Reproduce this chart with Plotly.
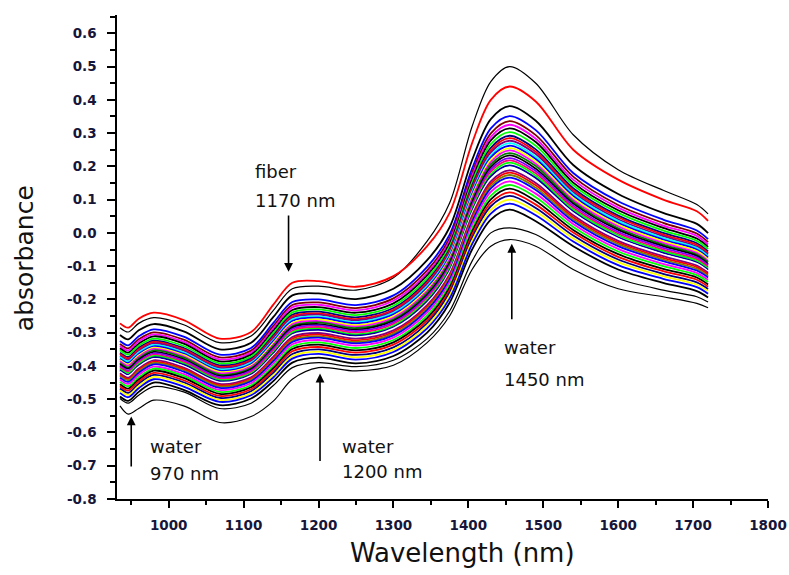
import plotly.graph_objects as go

wavelength_nm = [935, 946, 960, 980, 1020, 1068, 1110, 1140, 1165, 1200, 1250, 1300,
                 1345, 1375, 1405, 1430, 1455, 1490, 1540, 1600, 1660, 1705, 1720]

# Absorbance of all 36 samples at each wavelength (one list per wavelength)
a935 = [-0.285, -0.272, -0.307, -0.325, -0.334, -0.340, -0.347, -0.353, -0.360, -0.364, -0.369, -0.373, -0.378, -0.382, -0.386, -0.391, -0.395, -0.400, -0.404, -0.408, -0.413, -0.417, -0.422, -0.426, -0.430, -0.435, -0.441, -0.448, -0.455, -0.461, -0.468, -0.474, -0.481, -0.492, -0.498, -0.520]
a946 = [-0.298, -0.285, -0.320, -0.338, -0.347, -0.353, -0.360, -0.366, -0.373, -0.377, -0.382, -0.386, -0.391, -0.395, -0.399, -0.404, -0.408, -0.413, -0.417, -0.421, -0.426, -0.430, -0.435, -0.439, -0.443, -0.448, -0.454, -0.461, -0.468, -0.474, -0.481, -0.487, -0.494, -0.505, -0.512, -0.545]
a960 = [-0.272, -0.258, -0.293, -0.311, -0.320, -0.326, -0.333, -0.339, -0.346, -0.350, -0.355, -0.359, -0.364, -0.368, -0.372, -0.377, -0.381, -0.386, -0.390, -0.394, -0.399, -0.403, -0.408, -0.412, -0.416, -0.421, -0.427, -0.434, -0.441, -0.447, -0.454, -0.460, -0.467, -0.478, -0.488, -0.528]
a980 = [-0.255, -0.240, -0.274, -0.290, -0.299, -0.305, -0.311, -0.318, -0.324, -0.328, -0.332, -0.337, -0.341, -0.345, -0.349, -0.353, -0.358, -0.362, -0.366, -0.370, -0.374, -0.379, -0.383, -0.387, -0.391, -0.395, -0.402, -0.408, -0.414, -0.421, -0.427, -0.433, -0.440, -0.450, -0.462, -0.503]
a1020 = [-0.276, -0.262, -0.296, -0.312, -0.321, -0.327, -0.333, -0.340, -0.346, -0.350, -0.354, -0.359, -0.363, -0.367, -0.371, -0.375, -0.380, -0.384, -0.388, -0.392, -0.396, -0.401, -0.405, -0.409, -0.413, -0.417, -0.424, -0.430, -0.436, -0.443, -0.449, -0.455, -0.462, -0.472, -0.478, -0.520]
a1068 = [-0.330, -0.318, -0.350, -0.366, -0.374, -0.380, -0.386, -0.392, -0.398, -0.402, -0.406, -0.410, -0.414, -0.418, -0.422, -0.426, -0.430, -0.434, -0.438, -0.442, -0.446, -0.450, -0.454, -0.458, -0.462, -0.466, -0.472, -0.478, -0.484, -0.490, -0.496, -0.502, -0.508, -0.518, -0.528, -0.570]
a1110 = [-0.310, -0.298, -0.330, -0.346, -0.354, -0.360, -0.366, -0.372, -0.378, -0.382, -0.386, -0.390, -0.394, -0.398, -0.402, -0.406, -0.410, -0.414, -0.418, -0.422, -0.426, -0.430, -0.434, -0.438, -0.442, -0.446, -0.452, -0.458, -0.464, -0.470, -0.476, -0.482, -0.488, -0.498, -0.512, -0.552]
a1140 = [-0.232, -0.215, -0.252, -0.270, -0.279, -0.286, -0.293, -0.300, -0.307, -0.312, -0.316, -0.321, -0.325, -0.330, -0.335, -0.339, -0.344, -0.348, -0.353, -0.358, -0.362, -0.367, -0.371, -0.376, -0.381, -0.385, -0.392, -0.399, -0.406, -0.413, -0.420, -0.427, -0.434, -0.445, -0.458, -0.505]
a1165 = [-0.168, -0.150, -0.188, -0.208, -0.217, -0.224, -0.232, -0.239, -0.246, -0.251, -0.256, -0.260, -0.265, -0.270, -0.275, -0.280, -0.284, -0.289, -0.294, -0.299, -0.304, -0.308, -0.313, -0.318, -0.323, -0.328, -0.335, -0.342, -0.349, -0.356, -0.364, -0.371, -0.378, -0.390, -0.405, -0.440]
a1200 = [-0.160, -0.145, -0.182, -0.200, -0.209, -0.216, -0.223, -0.230, -0.237, -0.242, -0.246, -0.251, -0.255, -0.260, -0.265, -0.269, -0.274, -0.278, -0.283, -0.288, -0.292, -0.297, -0.301, -0.306, -0.311, -0.315, -0.322, -0.329, -0.336, -0.343, -0.350, -0.357, -0.364, -0.375, -0.390, -0.405]
a1250 = [-0.172, -0.162, -0.199, -0.217, -0.226, -0.233, -0.240, -0.247, -0.254, -0.259, -0.263, -0.268, -0.272, -0.277, -0.282, -0.286, -0.291, -0.295, -0.300, -0.305, -0.309, -0.314, -0.318, -0.323, -0.328, -0.332, -0.339, -0.346, -0.353, -0.360, -0.367, -0.374, -0.381, -0.392, -0.402, -0.415]
a1300 = [-0.135, -0.130, -0.168, -0.188, -0.197, -0.204, -0.212, -0.219, -0.226, -0.231, -0.236, -0.240, -0.245, -0.250, -0.255, -0.260, -0.264, -0.269, -0.274, -0.279, -0.284, -0.288, -0.293, -0.298, -0.303, -0.308, -0.315, -0.322, -0.329, -0.336, -0.344, -0.351, -0.358, -0.370, -0.383, -0.398]
a1345 = [-0.025, -0.040, -0.082, -0.102, -0.113, -0.121, -0.128, -0.136, -0.144, -0.149, -0.154, -0.160, -0.165, -0.170, -0.175, -0.180, -0.186, -0.191, -0.196, -0.201, -0.206, -0.212, -0.217, -0.222, -0.227, -0.232, -0.240, -0.248, -0.256, -0.264, -0.271, -0.279, -0.287, -0.300, -0.318, -0.330]
a1375 = [0.090, 0.060, 0.017, -0.005, -0.016, -0.024, -0.032, -0.040, -0.048, -0.053, -0.059, -0.064, -0.070, -0.075, -0.080, -0.086, -0.091, -0.097, -0.102, -0.107, -0.113, -0.118, -0.124, -0.129, -0.134, -0.140, -0.148, -0.156, -0.164, -0.172, -0.180, -0.188, -0.197, -0.210, -0.235, -0.250]
a1405 = [0.320, 0.270, 0.219, 0.193, 0.180, 0.171, 0.161, 0.152, 0.142, 0.136, 0.129, 0.123, 0.116, 0.110, 0.104, 0.097, 0.091, 0.084, 0.078, 0.072, 0.065, 0.059, 0.052, 0.046, 0.040, 0.033, 0.024, 0.014, 0.004, -0.005, -0.015, -0.024, -0.034, -0.050, -0.085, -0.110]
a1430 = [0.455, 0.400, 0.342, 0.314, 0.299, 0.288, 0.278, 0.267, 0.256, 0.249, 0.242, 0.234, 0.227, 0.220, 0.213, 0.206, 0.198, 0.191, 0.184, 0.177, 0.170, 0.162, 0.155, 0.148, 0.141, 0.134, 0.123, 0.112, 0.101, 0.090, 0.080, 0.069, 0.058, 0.040, 0.000, -0.040]
a1455 = [0.500, 0.440, 0.381, 0.351, 0.336, 0.325, 0.314, 0.303, 0.292, 0.285, 0.277, 0.270, 0.262, 0.255, 0.248, 0.240, 0.233, 0.225, 0.218, 0.211, 0.203, 0.196, 0.188, 0.181, 0.174, 0.166, 0.155, 0.144, 0.133, 0.122, 0.111, 0.100, 0.088, 0.070, 0.015, -0.020]
a1490 = [0.450, 0.395, 0.337, 0.309, 0.294, 0.283, 0.273, 0.262, 0.251, 0.244, 0.237, 0.229, 0.222, 0.215, 0.208, 0.201, 0.193, 0.186, 0.179, 0.172, 0.165, 0.157, 0.150, 0.143, 0.136, 0.129, 0.118, 0.107, 0.096, 0.085, 0.075, 0.064, 0.053, 0.035, -0.005, -0.040]
a1540 = [0.295, 0.250, 0.204, 0.180, 0.169, 0.160, 0.151, 0.143, 0.134, 0.128, 0.122, 0.117, 0.111, 0.105, 0.099, 0.093, 0.088, 0.082, 0.076, 0.070, 0.064, 0.059, 0.053, 0.047, 0.041, 0.035, 0.027, 0.018, 0.009, 0.001, -0.008, -0.017, -0.026, -0.040, -0.075, -0.110]
a1600 = [0.190, 0.160, 0.117, 0.095, 0.084, 0.076, 0.068, 0.060, 0.052, 0.047, 0.041, 0.036, 0.030, 0.025, 0.020, 0.014, 0.009, 0.003, -0.002, -0.007, -0.013, -0.018, -0.024, -0.029, -0.034, -0.040, -0.048, -0.056, -0.064, -0.072, -0.080, -0.088, -0.097, -0.110, -0.138, -0.168]
a1660 = [0.128, 0.100, 0.060, 0.040, 0.030, 0.022, 0.015, 0.007, 0.000, -0.005, -0.010, -0.015, -0.020, -0.025, -0.030, -0.035, -0.040, -0.045, -0.050, -0.055, -0.060, -0.065, -0.070, -0.075, -0.080, -0.085, -0.093, -0.100, -0.108, -0.115, -0.123, -0.130, -0.138, -0.150, -0.172, -0.192]
a1705 = [0.085, 0.065, 0.027, 0.007, -0.002, -0.009, -0.017, -0.024, -0.031, -0.036, -0.041, -0.045, -0.050, -0.055, -0.060, -0.065, -0.069, -0.074, -0.079, -0.084, -0.089, -0.093, -0.098, -0.103, -0.108, -0.113, -0.120, -0.127, -0.134, -0.141, -0.149, -0.156, -0.163, -0.175, -0.192, -0.212]
a1720 = [0.057, 0.036, -0.001, -0.019, -0.028, -0.035, -0.042, -0.049, -0.056, -0.061, -0.065, -0.070, -0.074, -0.079, -0.084, -0.088, -0.093, -0.097, -0.102, -0.107, -0.111, -0.116, -0.120, -0.125, -0.130, -0.134, -0.141, -0.148, -0.155, -0.162, -0.169, -0.176, -0.183, -0.194, -0.208, -0.225]

absorbance_rows = [a935, a946, a960, a980, a1020, a1068, a1110, a1140, a1165, a1200,
                   a1250, a1300, a1345, a1375, a1405, a1430, a1455, a1490, a1540,
                   a1600, a1660, a1705, a1720]

# Axis ticks
x_tick_values = [1000, 1100, 1200, 1300, 1400, 1500, 1600, 1700, 1800]
x_tick_labels = ["1000", "1100", "1200", "1300", "1400", "1500", "1600", "1700", "1800"]
y_tick_values = [-0.8, -0.7, -0.6, -0.5, -0.4, -0.3, -0.2, -0.1, 0.0, 0.1, 0.2, 0.3, 0.4, 0.5, 0.6]
y_tick_labels = ["-0.8", "-0.7", "-0.6", "-0.5", "-0.4", "-0.3", "-0.2", "-0.1",
                 "0.0", "0.1", "0.2", "0.3", "0.4", "0.5", "0.6"]

# Band labels and arrows
label_texts = ["fiber", "1170 nm", "water", "970 nm", "water", "1200 nm", "water", "1450 nm"]
label_x = [1112, 1112, 972, 972, 1229, 1229, 1445, 1445]
label_y = [0.186, 0.096, -0.641, -0.722, -0.641, -0.716, -0.345, -0.441]
arrow_x = [1160, 950, 1202, 1458]
arrow_head_y = [-0.117, -0.552, -0.423, -0.033]
arrow_tail_y = [0.057, -0.707, -0.690, -0.264]

# Styles (Origin-like colour cycle)
line_colors = [
    "#000000", "#FF0000", "#000000", "#0000FF", "#800000", "#FF00FF", "#000000", "#00FF00",
    "#000080", "#FF0000", "#800080", "#00FFFF", "#0000FF", "#FFFF00", "#FF00FF", "#008000",
    "#000000", "#8000FF", "#FF0080", "#00FF00", "#0000A0", "#FFFFFF", "#800080", "#FF0000",
    "#808000", "#0000FF", "#FF00FF", "#00FF00", "#000000", "#FF0000", "#000080", "#FFFF00",
    "#0000FF", "#000000", "#000000", "#000000"]

n_samples = len(a935)
for row in absorbance_rows:
    assert len(row) == n_samples, len(row)

fig = go.Figure()
for j in range(n_samples):
    y = [row[j] for row in absorbance_rows]
    thin = j in (0, n_samples - 2, n_samples - 1)
    fig.add_trace(go.Scatter(
        x=wavelength_nm, y=y, mode="lines",
        line=dict(color=line_colors[j], width=1.2 if thin else 1.8, shape="spline", smoothing=0.9),
        showlegend=False, hoverinfo="skip"))

annotations = []
for t, xx, yy in zip(label_texts, label_x, label_y):
    annotations.append(dict(x=xx, y=yy, xref="x", yref="y", text=t, showarrow=False,
                            xanchor="left", yanchor="middle",
                            font=dict(family="DejaVu Sans", size=18, color="#111111")))
for xx, hy, ty in zip(arrow_x, arrow_head_y, arrow_tail_y):
    annotations.append(dict(x=xx, y=hy, ax=xx, ay=ty, xref="x", yref="y", axref="x", ayref="y",
                            text="", showarrow=True, arrowhead=2, arrowsize=1.1, arrowwidth=1.6,
                            arrowcolor="#000000", standoff=0, startstandoff=0))
annotations.append(dict(x=0.53, y=-0.112, xref="paper", yref="paper", text="Wavelength (nm)",
                        showarrow=False, xanchor="center", yanchor="middle",
                        font=dict(family="DejaVu Sans", size=26, color="#111111")))
annotations.append(dict(x=-0.141, y=0.498, xref="paper", yref="paper", text="absorbance",
                        showarrow=False, xanchor="center", yanchor="middle", textangle=-90,
                        font=dict(family="DejaVu Sans", size=25, color="#111111")))

tick_font = dict(family="DejaVu Sans", size=13.5, color="#16163a", weight="bold")

fig.update_layout(
    width=789, height=575,
    margin=dict(l=117, r=21, t=15, b=76, autoexpand=False),
    paper_bgcolor="white", plot_bgcolor="white",
    showlegend=False,
    annotations=annotations,
    xaxis=dict(range=[931, 1800], tickmode="array", tickvals=x_tick_values, ticktext=x_tick_labels,
               automargin=False,
               showgrid=False, zeroline=False, showline=True, linecolor="#000000", linewidth=1.5,
               ticks="outside", ticklen=7, tickwidth=1.5, tickcolor="#000000",
               tickfont=tick_font, ticklabelstandoff=6,
               minor=dict(tickmode="linear", tick0=950, dtick=100, ticks="outside", ticklen=4,
                          tickwidth=1.5, tickcolor="#000000", showgrid=False)),
    yaxis=dict(range=[-0.8, 0.655], tickmode="array", tickvals=y_tick_values, ticktext=y_tick_labels,
               automargin=False,
               showgrid=False, zeroline=False, showline=True, linecolor="#000000", linewidth=1.5,
               ticks="outside", ticklen=8, tickwidth=1.5, tickcolor="#000000",
               tickfont=tick_font, ticklabelstandoff=8,
               minor=dict(tickmode="linear", tick0=-0.75, dtick=0.1, ticks="outside", ticklen=5,
                          tickwidth=1.5, tickcolor="#000000", showgrid=False)),
)

fig.write_html("out.html")
